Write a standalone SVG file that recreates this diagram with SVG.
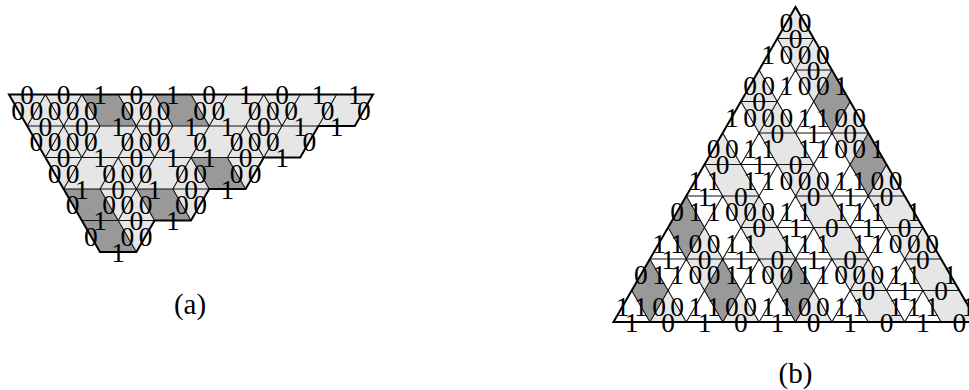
<svg xmlns="http://www.w3.org/2000/svg" width="969" height="390" viewBox="0 0 969 390">
<style>
text{font-family:"Liberation Serif","Times New Roman",serif;font-size:27.5px;fill:#000;text-anchor:middle}
text.cap{font-size:29px}
.light{fill:#e6e6e6;stroke:none}
.dark{fill:#999;stroke:none}
.thin{fill:none;stroke:#111;stroke-width:1.1}
.edge{fill:none;stroke:#000;stroke-width:2;stroke-linejoin:miter}
</style>
<rect width="969" height="390" fill="#fff"/>
<g id="figure-a">
<path class="light" d="M9 94.5H373L354.8 126H318.4L300.2 157.5H263.8L245.6 189H209.2L191 220.5H154.6L136.4 252H100Z"/>
<path class="dark" d="M81.8 94.5H118.2L136.4 126H100ZM154.6 94.5H191L209.2 126H172.8ZM191 157.5H227.4L245.6 189H209.2ZM63.6 189H100L118.2 220.5H81.8ZM136.4 189H172.8L191 220.5H154.6ZM81.8 220.5H118.2L136.4 252H100Z"/>
<path class="thin" d="M27.2 126H318.4M45.4 157.5H263.8M63.6 189H209.2M81.8 220.5H154.6
M45.4 94.5l18.2 31.5M81.8 94.5l18.2 31.5M118.2 94.5l18.2 31.5M154.6 94.5l18.2 31.5M191 94.5l18.2 31.5M263.8 94.5l18.2 31.5
M45.4 94.5l-18.2 31.5M81.8 94.5l-18.2 31.5M154.6 94.5l-18.2 31.5M227.4 94.5l-18.2 31.5M263.8 94.5l-18.2 31.5M300.2 94.5l-18.2 31.5M336.6 94.5l-18.2 31.5
M63.6 126l18.2 31.5M136.4 126l18.2 31.5M245.6 126l18.2 31.5
M63.6 126l-18.2 31.5M100 126l-18.2 31.5M136.4 126l-18.2 31.5M172.8 126l-18.2 31.5M209.2 126l-18.2 31.5M245.6 126l-18.2 31.5M282 126l-18.2 31.5
M118.2 157.5l18.2 31.5M191 157.5l18.2 31.5M227.4 157.5l18.2 31.5
M81.8 157.5l-18.2 31.5M118.2 157.5l-18.2 31.5M154.6 157.5l-18.2 31.5M191 157.5l-18.2 31.5
M100 189l18.2 31.5M136.4 189l18.2 31.5M172.8 189l18.2 31.5M136.4 189l-18.2 31.5
M118.2 220.5l18.2 31.5"/>
<path class="edge" d="M9 94.5H373L354.8 126H318.4L300.2 157.5H263.8L245.6 189H209.2L191 220.5H154.6L136.4 252H100Z"/>
<g transform="translate(0 1.5)">
<text x="27.2" y="102.5">0</text><text x="63.6" y="102.5">0</text><text x="100" y="102.5">1</text><text x="136.4" y="102.5">0</text><text x="172.8" y="102.5">1</text><text x="209.2" y="102.5">0</text><text x="245.6" y="102.5">1</text><text x="282" y="102.5">0</text><text x="318.4" y="102.5">1</text><text x="354.8" y="102.5">1</text>
<text x="18.1" y="118.3">0</text><text x="36.3" y="118.3">0</text><text x="54.5" y="118.3">0</text><text x="72.7" y="118.3">0</text><text x="90.9" y="118.3">0</text><text x="127.3" y="118.3">0</text><text x="145.5" y="118.3">0</text><text x="163.7" y="118.3">0</text><text x="200.1" y="118.3">0</text><text x="218.3" y="118.3">0</text><text x="254.7" y="118.3">0</text><text x="272.9" y="118.3">0</text><text x="291.1" y="118.3">0</text><text x="327.5" y="118.3">0</text><text x="363.9" y="118.3">0</text>
<text x="45.4" y="134">0</text><text x="81.8" y="134">0</text><text x="118.2" y="134">1</text><text x="154.6" y="134">0</text><text x="191" y="134">1</text><text x="227.4" y="134">1</text><text x="263.8" y="134">0</text><text x="300.2" y="134">1</text><text x="336.6" y="134">1</text>
<text x="36.3" y="149.8">0</text><text x="54.5" y="149.8">0</text><text x="72.7" y="149.8">0</text><text x="90.9" y="149.8">0</text><text x="127.3" y="149.8">0</text><text x="145.5" y="149.8">0</text><text x="163.7" y="149.8">0</text><text x="200.1" y="149.8">0</text><text x="236.5" y="149.8">0</text><text x="254.7" y="149.8">0</text><text x="272.9" y="149.8">0</text><text x="309.3" y="149.8">0</text>
<text x="63.6" y="165.5">0</text><text x="100" y="165.5">1</text><text x="136.4" y="165.5">0</text><text x="172.8" y="165.5">1</text><text x="209.2" y="165.5">1</text><text x="245.6" y="165.5">0</text><text x="282" y="165.5">1</text>
<text x="54.5" y="181.3">0</text><text x="72.7" y="181.3">0</text><text x="109.1" y="181.3">0</text><text x="127.3" y="181.3">0</text><text x="145.5" y="181.3">0</text><text x="181.9" y="181.3">0</text><text x="200.1" y="181.3">0</text><text x="236.5" y="181.3">0</text><text x="254.7" y="181.3">0</text>
<text x="81.8" y="197">1</text><text x="118.2" y="197">0</text><text x="154.6" y="197">1</text><text x="191" y="197">0</text><text x="227.4" y="197">1</text>
<text x="72.7" y="212.8">0</text><text x="109.1" y="212.8">0</text><text x="127.3" y="212.8">0</text><text x="145.5" y="212.8">0</text><text x="181.9" y="212.8">0</text><text x="200.1" y="212.8">0</text>
<text x="100" y="228.5">1</text><text x="136.4" y="228.5">0</text><text x="172.8" y="228.5">1</text>
<text x="90.9" y="244.3">0</text><text x="127.3" y="244.3">0</text><text x="145.5" y="244.3">0</text>
<text x="118.2" y="260">1</text>
</g>
<text class="cap" x="190" y="314">(a)</text>
</g>
<g id="figure-b">
<path class="light" d="M795.5 7l-18.2 31.5h36.4z
M777.3 38.5h36.4l-18.2 31.5z
M813.7 38.5l-18.2 31.5h36.4z
M795.5 70h36.4l-18.2 31.5z
M759.1 70l-18.2 31.5h36.4z
M740.9 101.5h36.4l-18.2 31.5z
M777.3 101.5l-18.2 31.5h36.4z
M850.1 101.5l-18.2 31.5h36.4z
M831.9 133h36.4l-18.2 31.5z
M722.7 133l-18.2 31.5h36.4z
M759.1 133H795.5L813.7 164.5H777.3Z
M704.5 164.5H740.9L759.1 196H722.7Z
M777.3 164.5h36.4l-18.2 31.5z
M813.7 164.5l-18.2 31.5h36.4z
M886.5 164.5l-18.2 31.5h36.4z
M722.7 196h36.4l-18.2 31.5z
M759.1 196l-18.2 31.5h36.4z
M795.5 196H831.9L850.1 227.5H813.7Z
M868.3 196H904.7L922.9 227.5H886.5Z
M740.9 227.5H777.3L795.5 259H759.1Z
M813.7 227.5H850.1L868.3 259H831.9Z
M886.5 227.5h36.4l-18.2 31.5z
M922.9 227.5l-18.2 31.5h36.4z
M704.5 227.5l-18.2 31.5h36.4z
M686.3 259h36.4l-18.2 31.5z
M759.1 259h36.4l-18.2 31.5z
M831.9 259h36.4l-18.2 31.5z
M868.3 259l-18.2 31.5h36.4z
M904.7 259H941.1L959.3 290.5H922.9Z
M668.1 290.5l-18.2 31.5h36.4z
M740.9 290.5l-18.2 31.5h36.4z
M813.7 290.5l-18.2 31.5h36.4z
M850.1 290.5H886.5L904.7 322H868.3Z
M922.9 290.5H959.3L977.5 322H941.1Z"/>
<path class="dark" d="M831.9 70l-18.2 31.5 18.2 31.5 18.2-31.5zM868.3 133l-18.2 31.5 18.2 31.5 18.2-31.5zM686.3 196l-18.2 31.5 18.2 31.5 18.2-31.5zM649.9 259l-18.2 31.5 18.2 31.5 18.2-31.5zM722.7 259l-18.2 31.5 18.2 31.5 18.2-31.5zM795.5 259l-18.2 31.5 18.2 31.5 18.2-31.5z"/>
<path class="thin" d="M777.3 38.5H813.7M795.5 70H831.9M740.9 101.5H777.3M759.1 133H868.3M704.5 164.5H813.7M686.3 196H759.1M795.5 196H904.7M740.9 227.5H922.9M649.9 259H868.3M904.7 259H941.1M850.1 290.5H959.3
M777.3 38.5l18.2 31.5M813.7 38.5l-18.2 31.5
M759.1 70l18.2 31.5M795.5 70l-18.2 31.5M795.5 70l18.2 31.5M831.9 70l-18.2 31.5
M740.9 101.5l18.2 31.5M777.3 101.5l-18.2 31.5M777.3 101.5l18.2 31.5M813.7 101.5l-18.2 31.5M813.7 101.5l18.2 31.5M850.1 101.5l-18.2 31.5
M722.7 133l18.2 31.5M759.1 133l-18.2 31.5M759.1 133l18.2 31.5M795.5 133l18.2 31.5M831.9 133l-18.2 31.5M831.9 133l18.2 31.5M868.3 133l-18.2 31.5
M704.5 164.5l18.2 31.5M740.9 164.5l18.2 31.5M777.3 164.5l-18.2 31.5M777.3 164.5l18.2 31.5M813.7 164.5l-18.2 31.5M813.7 164.5l18.2 31.5M850.1 164.5l-18.2 31.5M850.1 164.5l18.2 31.5M886.5 164.5l-18.2 31.5
M686.3 196l18.2 31.5M722.7 196l-18.2 31.5M722.7 196l18.2 31.5M759.1 196l-18.2 31.5M759.1 196l18.2 31.5M795.5 196l-18.2 31.5M795.5 196l18.2 31.5M831.9 196l18.2 31.5M868.3 196l-18.2 31.5M868.3 196l18.2 31.5
M668.1 227.5l18.2 31.5M704.5 227.5l-18.2 31.5M704.5 227.5l18.2 31.5M740.9 227.5l-18.2 31.5M740.9 227.5l18.2 31.5M777.3 227.5l18.2 31.5M813.7 227.5l-18.2 31.5M813.7 227.5l18.2 31.5M850.1 227.5l18.2 31.5M886.5 227.5l-18.2 31.5M886.5 227.5l18.2 31.5M922.9 227.5l-18.2 31.5
M649.9 259l18.2 31.5M686.3 259l-18.2 31.5M686.3 259l18.2 31.5M722.7 259l-18.2 31.5M722.7 259l18.2 31.5M759.1 259l-18.2 31.5M759.1 259l18.2 31.5M795.5 259l-18.2 31.5M795.5 259l18.2 31.5M831.9 259l-18.2 31.5M831.9 259l18.2 31.5M868.3 259l-18.2 31.5M868.3 259l18.2 31.5M904.7 259l-18.2 31.5M904.7 259l18.2 31.5
M631.7 290.5l18.2 31.5M668.1 290.5l-18.2 31.5M668.1 290.5l18.2 31.5M704.5 290.5l-18.2 31.5M704.5 290.5l18.2 31.5M740.9 290.5l-18.2 31.5M740.9 290.5l18.2 31.5M777.3 290.5l-18.2 31.5M777.3 290.5l18.2 31.5M813.7 290.5l-18.2 31.5M813.7 290.5l18.2 31.5M850.1 290.5l-18.2 31.5M850.1 290.5l18.2 31.5M886.5 290.5l18.2 31.5M922.9 290.5l-18.2 31.5M922.9 290.5l18.2 31.5"/>
<path class="edge" d="M795.5 7L977.5 322H613.5Z"/>
<g transform="translate(0 1.5)">
<text x="786.4" y="30.8">0</text><text x="804.6" y="30.8">0</text>
<text x="795.5" y="46.5">0</text>
<text x="768.2" y="62.3">1</text><text x="786.4" y="62.3">0</text><text x="804.6" y="62.3">0</text><text x="822.8" y="62.3">0</text>
<text x="813.7" y="78">0</text>
<text x="750" y="93.8">0</text><text x="768.2" y="93.8">0</text><text x="786.4" y="93.8">1</text><text x="804.6" y="93.8">0</text><text x="822.8" y="93.8">0</text><text x="841" y="93.8">1</text>
<text x="759.1" y="109.5">0</text>
<text x="731.8" y="125.3">1</text><text x="750" y="125.3">0</text><text x="768.2" y="125.3">0</text><text x="786.4" y="125.3">0</text><text x="804.6" y="125.3">1</text><text x="822.8" y="125.3">1</text><text x="841" y="125.3">0</text><text x="859.2" y="125.3">0</text>
<text x="777.3" y="141">0</text><text x="813.7" y="141">1</text><text x="850.1" y="141">0</text>
<text x="713.6" y="156.8">0</text><text x="731.8" y="156.8">0</text><text x="750" y="156.8">1</text><text x="768.2" y="156.8">1</text><text x="804.6" y="156.8">1</text><text x="822.8" y="156.8">1</text><text x="841" y="156.8">0</text><text x="859.2" y="156.8">0</text><text x="877.4" y="156.8">1</text>
<text x="722.7" y="172.5">0</text><text x="759.1" y="172.5">1</text><text x="795.5" y="172.5">0</text>
<text x="695.4" y="188.3">1</text><text x="713.6" y="188.3">1</text><text x="750" y="188.3">1</text><text x="768.2" y="188.3">1</text><text x="786.4" y="188.3">0</text><text x="804.6" y="188.3">0</text><text x="822.8" y="188.3">0</text><text x="841" y="188.3">1</text><text x="859.2" y="188.3">1</text><text x="877.4" y="188.3">0</text><text x="895.6" y="188.3">0</text>
<text x="704.5" y="204">1</text><text x="740.9" y="204">0</text><text x="813.7" y="204">0</text><text x="850.1" y="204">1</text><text x="886.5" y="204">0</text>
<text x="677.2" y="219.8">0</text><text x="695.4" y="219.8">1</text><text x="713.6" y="219.8">1</text><text x="731.8" y="219.8">0</text><text x="750" y="219.8">0</text><text x="768.2" y="219.8">0</text><text x="786.4" y="219.8">1</text><text x="804.6" y="219.8">1</text><text x="841" y="219.8">1</text><text x="859.2" y="219.8">1</text><text x="877.4" y="219.8">1</text><text x="913.8" y="219.8">1</text>
<text x="759.1" y="235.5">0</text><text x="795.5" y="235.5">1</text><text x="831.9" y="235.5">0</text><text x="868.3" y="235.5">1</text><text x="904.7" y="235.5">0</text>
<text x="659" y="251.3">1</text><text x="677.2" y="251.3">1</text><text x="695.4" y="251.3">0</text><text x="713.6" y="251.3">0</text><text x="731.8" y="251.3">1</text><text x="750" y="251.3">1</text><text x="786.4" y="251.3">1</text><text x="804.6" y="251.3">1</text><text x="822.8" y="251.3">1</text><text x="859.2" y="251.3">1</text><text x="877.4" y="251.3">1</text><text x="895.6" y="251.3">0</text><text x="913.8" y="251.3">0</text><text x="932" y="251.3">0</text>
<text x="668.1" y="267">1</text><text x="704.5" y="267">0</text><text x="740.9" y="267">1</text><text x="777.3" y="267">0</text><text x="813.7" y="267">1</text><text x="850.1" y="267">0</text><text x="922.9" y="267">0</text>
<text x="640.8" y="282.8">0</text><text x="659" y="282.8">1</text><text x="677.2" y="282.8">1</text><text x="695.4" y="282.8">0</text><text x="713.6" y="282.8">0</text><text x="731.8" y="282.8">1</text><text x="750" y="282.8">1</text><text x="768.2" y="282.8">0</text><text x="786.4" y="282.8">0</text><text x="804.6" y="282.8">1</text><text x="822.8" y="282.8">1</text><text x="841" y="282.8">0</text><text x="859.2" y="282.8">0</text><text x="877.4" y="282.8">0</text><text x="895.6" y="282.8">1</text><text x="913.8" y="282.8">1</text><text x="950.2" y="282.8">1</text>
<text x="868.3" y="298.5">0</text><text x="904.7" y="298.5">1</text><text x="941.1" y="298.5">0</text>
<text x="622.6" y="314.3">1</text><text x="640.8" y="314.3">1</text><text x="659" y="314.3">0</text><text x="677.2" y="314.3">0</text><text x="695.4" y="314.3">1</text><text x="713.6" y="314.3">1</text><text x="731.8" y="314.3">0</text><text x="750" y="314.3">0</text><text x="768.2" y="314.3">1</text><text x="786.4" y="314.3">1</text><text x="804.6" y="314.3">0</text><text x="822.8" y="314.3">0</text><text x="841" y="314.3">1</text><text x="859.2" y="314.3">1</text><text x="895.6" y="314.3">1</text><text x="913.8" y="314.3">1</text><text x="932" y="314.3">1</text><text x="968.4" y="314.3">1</text>
<text x="631.7" y="330">1</text><text x="668.1" y="330">0</text><text x="704.5" y="330">1</text><text x="740.9" y="330">0</text><text x="777.3" y="330">1</text><text x="813.7" y="330">0</text><text x="850.1" y="330">1</text><text x="886.5" y="330">0</text><text x="922.9" y="330">1</text><text x="959.3" y="330">0</text>
</g>
<text class="cap" x="795.5" y="383">(b)</text>
</g>
</svg>
